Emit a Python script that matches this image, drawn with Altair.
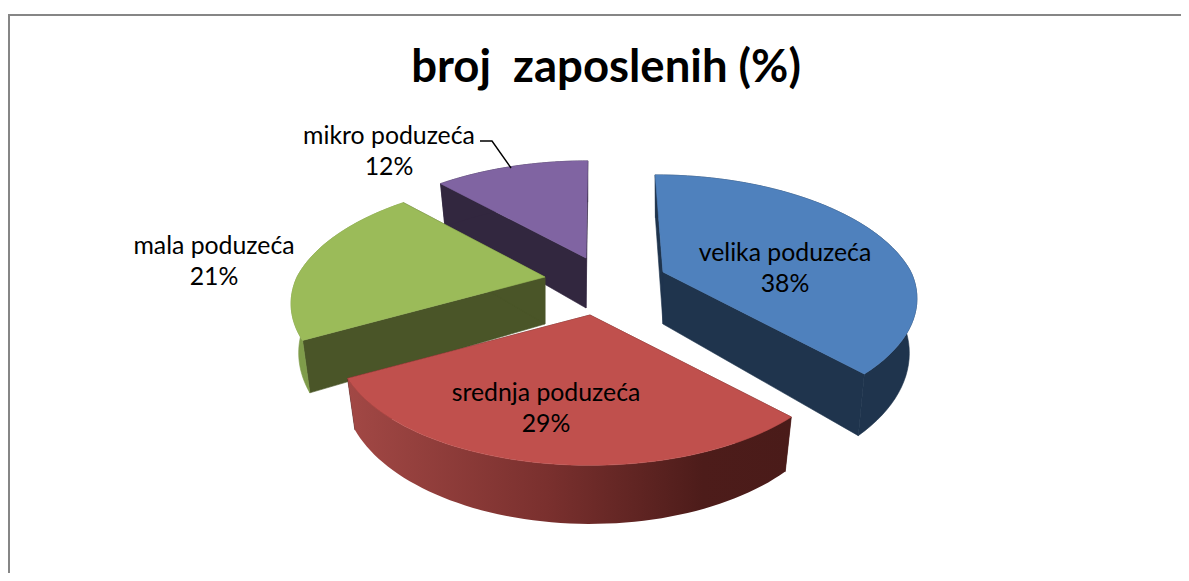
import math
import altair as alt

categories = ["velika poduzeća", "srednja poduzeća", "mala poduzeća", "mikro poduzeća"]
shares = [38, 29, 21, 12]
top_colors = ["#4f81bd", "#c0504d", "#9bbb59", "#8064a2"]
side_colors = ["#1f344d", "#4a1a18", "#4a5528", "#32273f"]
wall_colors = ["#1f344d", None, "#7f9c4a", "#32273f"]
apex_x = [663, 590, 545, 586]
apex_y = [272, 315, 277, 258]
depths = [52, 46, 47, 50]
label_x = [785, 546, 214, 389]
label_y = [254, 394, 247, 137]
title_text = "broj\u00a0 zaposlenih (%)"
leader_x = [480, 492, 511]
leader_y = [141, 141, 168]

OFF = 8  # page margin
W, H = 1173, 565
RX, RY, P, STEEP, VP, VF = 248, 118, 0.215, 0.03, 600, 0.7


def rim(phi, cx, cy, depth=0):
    d = 1 + P * math.cos(phi)
    x = cx + RX * math.sin(phi) / d
    if math.cos(phi) > 0:
        x += VF * (cx - VP) * (1 / d - 1)
    y = cy - RY * math.cos(phi) / d
    if depth:
        y += depth / d
        x += (cx - x) * STEEP
    return [x - OFF, y - OFF]


def feature(ring, name):
    return {"type": "Feature", "properties": {"name": name},
            "geometry": {"type": "Polygon", "coordinates": [ring + [ring[0]]]}}


def arc_angles(a, b, n=60):
    return [a + (b - a) * i / n for i in range(n + 1)]


def shape_layer(feat, fill):
    kw = {"stroke": fill, "strokeWidth": 0.6} if isinstance(fill, str) else {"strokeWidth": 0}
    return alt.Chart(alt.Data(values=[feat])).mark_geoshape(
        fill=fill, clip=False, **kw
    ).project(type="identity", scale=1, translate=[0, 0])


layers_by_slice = []
cum = 0
for i, s in enumerate(shares):
    a = 2 * math.pi * cum / 100
    b = 2 * math.pi * (cum + s) / 100
    cum += s
    cx, cy, dp = apex_x[i], apex_y[i], depths[i]
    ang = arc_angles(a, b)
    apex_top = [cx - OFF, cy - OFF]
    apex_bot = [cx - OFF, cy + dp - OFF]
    parts = []
    for phi in (a, b):
        ring = [apex_top, rim(phi, cx, cy), rim(phi, cx, cy, dp), apex_bot]
        parts.append(shape_layer(feature(ring, categories[i]), side_colors[i]))
    ring = [rim(p, cx, cy) for p in ang] + [rim(p, cx, cy, dp) for p in reversed(ang)]
    wall = wall_colors[i]
    if wall is None:
        wall = alt.Gradient(gradient="linear", x1=0, x2=1, y1=0, y2=0, stops=[
            alt.GradientStop(offset=0, color="#a24845"),
            alt.GradientStop(offset=0.45, color="#7a302e"),
            alt.GradientStop(offset=0.8, color="#4d1c1a"),
            alt.GradientStop(offset=1, color="#4a1b19"),
        ])
    parts.append(shape_layer(feature(ring, categories[i]), wall))
    ring = [apex_top] + [rim(p, cx, cy) for p in ang]
    parts.append(shape_layer(feature(ring, categories[i]), top_colors[i]))
    layers_by_slice.append(parts)

xs = alt.X("x:Q", scale=alt.Scale(domain=[0, W], range=[0, W]), axis=None)
ys = alt.Y("y:Q", scale=alt.Scale(domain=[0, H], range=[0, H]), axis=None)

labels = []
for c, s, x, y in zip(categories, shares, label_x, label_y):
    labels.append({"x": x - OFF, "y": y - OFF, "t": c})
    labels.append({"x": x - OFF, "y": y + 31 - OFF, "t": f"{s}%"})

label_layer = alt.Chart(alt.Data(values=labels)).mark_text(
    font="Lato", fontSize=24.8, color="#000000", align="center", baseline="middle"
).encode(x=xs, y=ys, text="t:N")

title_layer = alt.Chart(alt.Data(values=[{"x": 606 - OFF, "y": 68 - OFF, "t": title_text}])).mark_text(
    font="Lato", fontSize=45.5, fontWeight="bold", color="#000000", align="center", baseline="middle"
).encode(x=xs, y=ys, text="t:N")

leader = alt.Chart(alt.Data(values=[
    {"x": x - OFF, "y": y - OFF, "o": i} for i, (x, y) in enumerate(zip(leader_x, leader_y))
])).mark_line(color="#000000", strokeWidth=1.4).encode(x=xs, y=ys, order="o:Q")

frame = alt.Chart(alt.Data(values=[
    {"x": 1, "y": H, "o": 0}, {"x": 1, "y": 7, "o": 1}, {"x": W, "y": 7, "o": 2}
])).mark_line(color="#868686", strokeWidth=2).encode(x=xs, y=ys, order="o:Q")

order = [3, 2, 0, 1]
all_layers = [frame]
for i in order:
    all_layers.extend(layers_by_slice[i])
all_layers.extend([leader, label_layer, title_layer])

chart = alt.layer(*all_layers).resolve_scale(x="shared", y="shared").properties(
    width=W, height=H, padding=0, autosize=alt.AutoSizeParams(type="none")
).configure_view(stroke=None)

chart.save("out.html", embed_options={"renderer": "svg", "actions": False})
